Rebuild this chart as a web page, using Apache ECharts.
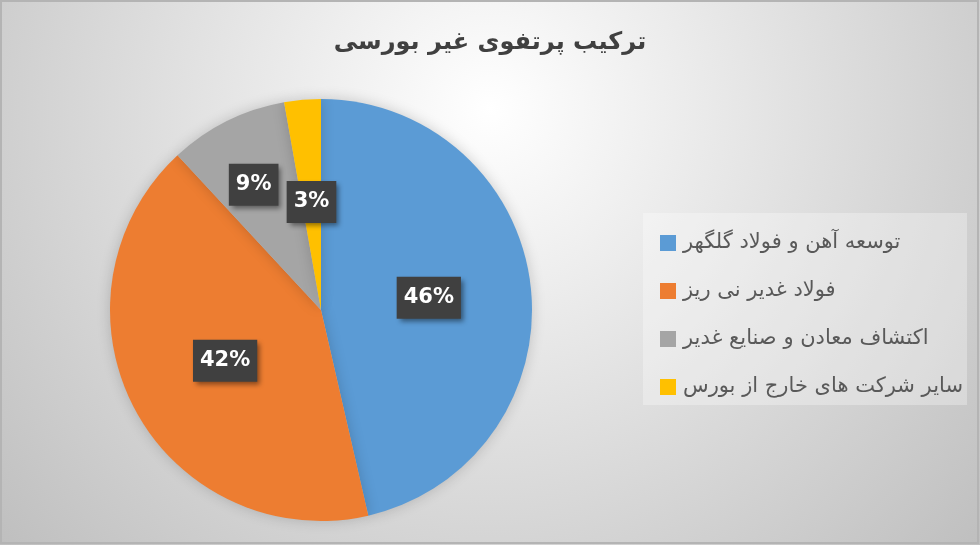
<!DOCTYPE html>
<html>
<head>
<meta charset="utf-8">
<script src="https://cdn.jsdelivr.net/npm/echarts@6/dist/echarts.min.js"></script>
<style>html,body{margin:0;padding:0;}#c{width:980px;height:545px;}</style>
</head>
<body>
<div id="c"></div>
<script>
var titleText = 'ترکیب پرتفوی غیر بورسی';
var categories = ['توسعه آهن و فولاد گلگهر', 'فولاد غدیر نی ریز', 'اکتشاف معادن و صنایع غدیر', 'سایر شرکت های خارج از بورس'];
var values = [46.4, 41.7, 9.1, 2.8];
var colors = ['#5B9BD5', '#ED7D31', '#A5A5A5', '#FFC000'];

var chart = echarts.init(document.getElementById('c'));
chart.setOption({
  backgroundColor: {
    type: 'radial', x: 0.5, y: 0.2, r: 1.2,
    colorStops: [{offset: 0, color: '#ffffff'}, {offset: 1, color: '#bfbfbf'}]
  },
  title: {
    text: titleText, left: 'center', top: 26,
    textStyle: {fontFamily: 'DejaVu Sans', fontSize: 24, fontWeight: 'bold', color: '#404040'}
  },
  graphic: [
    {type: 'rect', shape: {x: 1, y: 1, width: 977, height: 542}, style: {fill: 'none', stroke: '#b4b4b4', lineWidth: 2}, silent: true},
    {type: 'rect', shape: {x: 643, y: 213, width: 324, height: 192}, style: {fill: 'rgba(255,255,255,0.3)'}, silent: true, z: 0}
  ],
  legend: {
    orient: 'vertical', left: 655, top: 227,
    itemWidth: 16, itemHeight: 16, itemGap: 26,
    icon: 'rect',
    data: categories,
    textStyle: {fontFamily: 'DejaVu Sans', fontSize: 21, color: '#595959', lineHeight: 22, padding: [0, 0, 0, 2]}
  },
  color: colors,
  series: [{
    type: 'pie',
    center: [321, 310],
    radius: [0, 211],
    startAngle: 90,
    clockwise: true,
    avoidLabelOverlap: false,
    animation: false,
    itemStyle: {shadowBlur: 14, shadowColor: 'rgba(0,0,0,0.18)'},
    label: {
      position: 'inside',
      formatter: function (p) { return Math.round(p.percent) + '%'; },
      fontFamily: 'DejaVu Sans', fontSize: 21, fontWeight: 'bold', color: '#ffffff',
      backgroundColor: '#404040', padding: [8, 7, 6, 7], lineHeight: 28,
      shadowColor: 'rgba(0,0,0,0.45)', shadowBlur: 5, shadowOffsetX: 3, shadowOffsetY: 3
    },
    labelLayout: function (p) {
      if (p.dataIndex === 2) { return {dx: -19, dy: -28}; }
      return {};
    },
    labelLine: {show: false},
    data: categories.map(function (c, i) { return {name: c, value: values[i]}; })
  }]
});
</script>
</body>
</html>
